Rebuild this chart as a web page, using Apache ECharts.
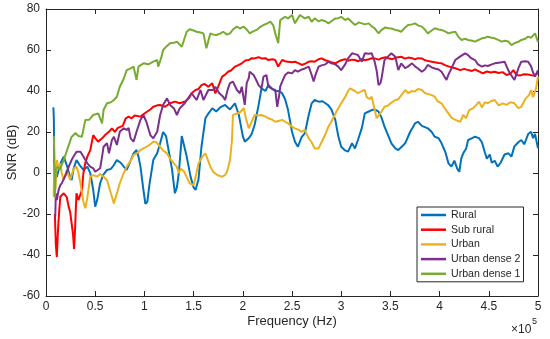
<!DOCTYPE html>
<html>
<head>
<meta charset="utf-8">
<script src="https://cdn.jsdelivr.net/npm/echarts@6/dist/echarts.min.js"></script>
<style>html,body{margin:0;padding:0;background:#fff}#c{width:550px;height:339px}</style>
</head>
<body>
<div id="c"></div>
<script>
// Frequencies are in units of 10^5 Hz; values are SNR in dB.
const seriesNames = ['Rural', 'Sub rural', 'Urban', 'Urban dense 2', 'Urban dense 1'];
const xTickLabels = ['0', '0.5', '1', '1.5', '2', '2.5', '3', '3.5', '4', '4.5', '5'];
const yTickLabels = ['-60', '-40', '-20', '0', '20', '40', '60', '80'];

const ruralF = [0.075,0.08,0.085,0.095,0.11,0.128,0.15,0.18,0.21,0.245,0.26,0.28,0.31,0.34,0.38,0.42,0.45,0.48,0.50,0.52,0.55,0.58,0.62,0.66,0.69,0.72,0.76,0.79,0.82,0.86,0.89,0.92,0.94,0.96,0.99,1.01,1.03,1.05,1.09,1.13,1.16,1.19,1.22,1.25,1.28,1.31,1.33,1.35,1.38,1.40,1.43,1.47,1.50,1.52,1.55,1.58,1.62,1.65,1.69,1.73,1.77,1.82,1.87,1.92,1.96,2.00,2.02,2.06,2.09,2.12,2.16,2.19,2.23,2.26,2.30,2.33,2.37,2.40,2.43,2.46,2.50,2.53,2.56,2.60,2.63,2.67,2.70,2.73,2.77,2.81,2.84,2.87,2.90,2.94,2.97,3.00,3.04,3.07,3.11,3.14,3.17,3.21,3.24,3.28,3.31,3.34,3.38,3.41,3.44,3.48,3.51,3.55,3.58,3.62,3.65,3.70,3.75,3.78,3.82,3.88,3.92,3.95,3.99,4.02,4.06,4.09,4.12,4.15,4.18,4.20,4.22,4.24,4.27,4.29,4.33,4.36,4.40,4.43,4.46,4.48,4.51,4.53,4.56,4.59,4.62,4.66,4.70,4.73,4.76,4.80,4.83,4.86,4.90,4.93,4.95,4.97,5.00];
const ruralV = [32,26,-4,3,-2,1.5,5,8,4,-1.8,-3.4,2,6.3,4,1.5,3.1,-0.1,-8.3,-16.4,-13.2,-5,-1,1.5,2,3.9,6.3,5,3.1,1.5,6,9.6,11.2,8,3.1,-8.3,-15,-14,-6,6.3,9.6,14.5,20,18,10,2,-9.9,-7,0,18,14,8,-2,-7,-8.3,-3,12.8,26.7,29,31.6,30,32,33.2,31,34,28.3,18,15.3,16.9,19,23.4,33,41.3,40,42.9,41,40,40,38.9,36,30.7,20.1,15.3,12.8,17.7,19.3,28.3,34,35.6,34.8,35,34,33,31,25.9,18,12.8,11,10.4,14.5,12,16.1,22,29.1,30,30.7,31,29.9,27,22.6,18,14.5,12,11.2,13,14.5,20,24.2,25,23,21.8,20,17.7,17,14.5,10,4.7,3.1,6,2,0.6,7,9.6,12,16.1,17,17.7,17,15,10,7,9,5,6,3.1,5,9,9.6,8,13,15,16.1,14,19,20.1,17,19,12];

const subRuralF = [0.09,0.10,0.11,0.12,0.128,0.145,0.18,0.21,0.23,0.245,0.26,0.275,0.285,0.295,0.30,0.31,0.33,0.35,0.365,0.38,0.40,0.42,0.45,0.47,0.48,0.50,0.53,0.57,0.60,0.64,0.67,0.70,0.73,0.75,0.78,0.81,0.84,0.87,0.90,0.92,0.96,1.00,1.02,1.06,1.09,1.13,1.16,1.21,1.26,1.31,1.36,1.38,1.42,1.45,1.48,1.52,1.55,1.58,1.61,1.65,1.69,1.72,1.75,1.79,1.82,1.85,1.88,1.92,1.95,1.99,2.03,2.06,2.09,2.12,2.16,2.19,2.23,2.26,2.30,2.33,2.36,2.40,2.43,2.46,2.50,2.53,2.57,2.60,2.64,2.67,2.70,2.73,2.77,2.80,2.84,2.87,2.90,2.94,2.97,3.00,3.04,3.07,3.11,3.14,3.17,3.21,3.24,3.28,3.31,3.34,3.38,3.41,3.45,3.48,3.52,3.55,3.58,3.61,3.65,3.68,3.72,3.75,3.78,3.82,3.85,3.88,3.92,3.95,3.99,4.02,4.06,4.09,4.13,4.16,4.21,4.25,4.29,4.33,4.36,4.40,4.44,4.48,4.52,4.56,4.60,4.64,4.68,4.72,4.75,4.78,4.82,4.86,4.90,4.92,4.95,4.97,5.00];
const subRuralV = [-20,-35,-41,-30,-22.9,-11.6,-9.9,-11.6,-16.4,-18.9,-19.7,-30,-37,-28,-21.3,-9.9,-13.2,-14,-8.3,-0.1,5,8,11.2,11.2,18.5,17,15.3,16.9,18.5,20.1,21.8,20.1,22,21.8,23,26.7,27.5,26.7,28,28.3,27.5,29,29.9,31,32.3,33,33.2,32.3,34,34.8,34,34,35,36.4,38.9,40.5,41,42.9,43.5,42.1,43.8,38.9,42.1,47,48,49.4,50,51.9,52.5,53.5,55,55.1,56,55.9,56.5,55.9,56,55.1,55.5,55.1,51.9,55.1,54.5,54.3,54,54.3,53.5,52.7,53.5,54.3,54.5,54.3,55.5,55.9,55,54.5,54,53.5,54.3,55,55.5,54.8,55.3,55.1,54.5,55.5,55,55.5,56,55.9,55.3,56,56.5,56,55.5,56.2,56.5,56.7,55.8,56.3,56,55.4,56,55.9,55,54.7,54.3,54,53.7,53.5,52.5,52,51.5,51.1,50.2,50.8,50.2,49.8,50.5,49.6,48.6,49.5,49,49.4,48.8,49.2,47.8,48.5,50.2,47.8,47.6,48.2,48,48.6,47.5,46.9,48.6];

const urbanF = [0.077,0.085,0.095,0.11,0.13,0.145,0.16,0.18,0.21,0.245,0.28,0.31,0.33,0.35,0.38,0.40,0.42,0.45,0.48,0.52,0.55,0.585,0.62,0.66,0.69,0.72,0.75,0.79,0.82,0.86,0.89,0.92,0.96,0.99,1.02,1.06,1.09,1.12,1.16,1.19,1.23,1.26,1.30,1.33,1.35,1.37,1.40,1.43,1.46,1.50,1.52,1.55,1.59,1.62,1.64,1.67,1.70,1.74,1.79,1.82,1.84,1.86,1.87,1.89,1.90,1.94,1.97,1.99,2.01,2.03,2.06,2.09,2.12,2.16,2.19,2.23,2.26,2.30,2.33,2.37,2.40,2.43,2.46,2.50,2.53,2.57,2.60,2.63,2.67,2.70,2.73,2.77,2.80,2.84,2.87,2.91,2.95,3.00,3.04,3.07,3.09,3.11,3.14,3.17,3.21,3.24,3.26,3.29,3.31,3.34,3.36,3.38,3.41,3.44,3.48,3.50,3.55,3.58,3.62,3.65,3.68,3.72,3.75,3.78,3.82,3.85,3.88,3.92,3.95,3.98,4.02,4.06,4.09,4.12,4.15,4.18,4.21,4.24,4.27,4.30,4.34,4.37,4.40,4.43,4.46,4.49,4.52,4.56,4.60,4.64,4.68,4.72,4.76,4.80,4.83,4.87,4.91,4.93,4.95,4.98,5.00];
const urbanV = [-11.6,5,-8,6.3,2,4.7,0,-3.4,1.5,-3.4,2,3.1,0,-5,-14,-17.2,-12,-1.8,-1,-1.8,-0.5,-1.8,-3.4,-10,-14.8,-10,-5,0,3.1,6,8.8,9.5,11.2,12,12.8,14,15.3,15,12.8,11,9.6,7,4.7,3,-0.1,2,1,-2,-5,-5.9,-2,4.7,8,9.6,7,3.1,0.5,-1,-1.8,-1,0.6,1,6.3,16.1,28.3,29,29.5,29.9,31.6,27,21.8,25,28.3,28,28.3,27.5,26.7,26,25,25.5,25.9,25,24.2,22.6,21.8,21,20.1,21,16.9,15,12,12,15,19,22.6,26,29.9,34,37,40,41.3,42.1,40,38.9,40,40.5,37,36,37.2,31,26.7,27.5,30,32.3,33,34,35.6,36,38.5,40.5,39,40,39.7,41,40.5,39,38.5,38,37.2,35,34,31,29.1,27,26.2,25.5,25,28.3,26.7,30.7,31.6,33,34.8,32,34.5,34,35,35.6,33,34,33.2,34.5,34,31.6,32.3,36,38.1,40.5,37,41.3,47];

const dense2F = [0.094,0.10,0.11,0.128,0.145,0.16,0.18,0.20,0.23,0.26,0.28,0.31,0.33,0.35,0.38,0.40,0.42,0.45,0.48,0.50,0.55,0.57,0.585,0.62,0.64,0.67,0.69,0.72,0.75,0.79,0.82,0.84,0.86,0.89,0.92,0.96,0.99,1.02,1.06,1.09,1.13,1.16,1.19,1.23,1.26,1.30,1.33,1.36,1.41,1.43,1.48,1.50,1.53,1.55,1.57,1.60,1.65,1.70,1.72,1.76,1.80,1.82,1.85,1.87,1.90,1.92,1.94,1.97,1.99,2.01,2.02,2.04,2.06,2.07,2.09,2.11,2.14,2.16,2.18,2.19,2.21,2.23,2.24,2.26,2.28,2.30,2.33,2.35,2.37,2.38,2.40,2.43,2.46,2.50,2.53,2.56,2.60,2.63,2.67,2.70,2.72,2.74,2.77,2.80,2.84,2.87,2.90,2.94,2.97,3.00,3.04,3.07,3.11,3.14,3.17,3.21,3.24,3.28,3.31,3.34,3.36,3.38,3.40,3.41,3.44,3.48,3.51,3.55,3.58,3.61,3.65,3.68,3.72,3.75,3.78,3.82,3.85,3.88,3.92,3.95,3.99,4.02,4.05,4.07,4.09,4.12,4.16,4.20,4.23,4.26,4.29,4.32,4.36,4.39,4.43,4.46,4.49,4.53,4.56,4.60,4.63,4.66,4.69,4.71,4.73,4.76,4.78,4.80,4.83,4.87,4.90,4.93,4.95,4.97,5.00];
const dense2V = [-21.3,-10,-13.2,-8.3,-6,-5,-3,-1,3,6.3,8,10.4,11.2,10.4,8,6.3,4.7,3.1,2.3,0.6,2.3,8,12.8,14.5,9.6,16.1,17.7,13.7,20.1,21.8,21,22,16.9,15.3,20.1,25.9,28.3,25,18.5,16.9,20.1,28.3,33.2,36.4,33.2,31.6,28.3,31.6,34,35.6,38.9,38,35.6,36.4,40.5,35.6,40.5,40.5,42.1,39,37.2,35.6,41.3,43.8,44.6,45.4,40.5,38.9,42.1,36,33.2,44,46.2,49.4,48.6,47.8,45,42.9,42.1,41.3,47,47.8,47.8,42.1,41.3,41,40.5,32.3,38,42.1,44.6,47.8,49,48.6,50.2,49.4,50.5,51,51.9,47.8,44.6,48,51.9,52.5,53,54.3,53.5,53,51.9,50.2,53,55.9,58.4,58,57.6,54.3,58.4,58.2,58.4,54.3,50,42.9,44,46.2,55.1,57,58.4,56.7,50.2,53.5,51.1,52,53.5,52,51,49.4,50.5,52.7,51.5,51,50.5,49.4,47,45.4,48,51,55.1,56.5,57.5,58.4,57.5,56,55.1,53,51.9,52.5,52.2,53,53.5,53.8,54,54.3,51,49,48.6,45.4,48,51,54.3,54.5,54.3,52,49,47,50.2];

const dense1F = [0.08,0.085,0.09,0.095,0.10,0.12,0.14,0.16,0.18,0.22,0.26,0.28,0.30,0.33,0.365,0.40,0.44,0.48,0.53,0.57,0.585,0.62,0.66,0.69,0.72,0.75,0.79,0.82,0.86,0.89,0.92,0.94,0.99,1.04,1.09,1.13,1.14,1.17,1.19,1.23,1.26,1.30,1.33,1.38,1.41,1.43,1.46,1.50,1.53,1.57,1.60,1.63,1.67,1.70,1.73,1.77,1.80,1.84,1.87,1.90,1.94,1.97,2.01,2.04,2.07,2.10,2.14,2.17,2.21,2.25,2.28,2.31,2.33,2.36,2.38,2.43,2.46,2.50,2.53,2.58,2.63,2.67,2.70,2.73,2.77,2.80,2.84,2.87,2.90,2.94,2.97,3.00,3.04,3.07,3.11,3.14,3.18,3.21,3.24,3.28,3.31,3.34,3.38,3.41,3.45,3.48,3.51,3.55,3.58,3.61,3.65,3.68,3.72,3.75,3.78,3.82,3.85,3.88,3.92,3.95,3.99,4.02,4.06,4.09,4.12,4.16,4.19,4.22,4.26,4.29,4.33,4.36,4.40,4.43,4.46,4.49,4.53,4.56,4.60,4.63,4.66,4.70,4.73,4.76,4.80,4.83,4.87,4.90,4.93,4.97,4.99,5.00];
const dense1V = [18,5,-12,-5,2,3,1.5,4,6.3,12,17.6,18.5,19.5,18,17.7,25.9,26,28.3,29.1,24.2,30.7,34,34.5,35.6,37.2,42.1,46,50.2,51,51.9,45.4,51.9,53.5,53,54.3,55.1,51.9,56,60,62,63.3,63.5,64.1,61.6,66,68.9,70.1,69.5,68.9,68.5,68.1,60.8,68.1,67.5,67.3,68,68.9,67.5,68.1,70,71.4,70.5,71.4,70,68.1,69,69.8,71,72.2,73,73.8,72,68.1,63.3,74.6,76.2,75.4,77.1,73,77.1,75.4,76.2,73.8,75.4,74,74.6,74,73,74,75.4,75.5,76.2,74.6,75.4,73.5,72.2,73.5,73,72.5,73,71.5,70.6,68.1,69.8,71,70.6,70.5,69.8,69.5,68.9,71,72.2,72.5,73,72,71.4,70,68.1,69.5,70.6,70,69.8,69,68.1,68.5,68.9,66.5,64.9,65.5,64.9,64.5,64.1,65,65.7,66,66.5,66,65.7,64.8,64.1,64.5,64.1,62.4,63.3,64,64.9,65.5,66.5,66,68.1,68.9,64];

const colors = ['#0072BD', '#FF0000', '#EDB120', '#7E2F8E', '#77AC30'];
const freqs = [ruralF, subRuralF, urbanF, dense2F, dense1F];
const vals = [ruralV, subRuralV, urbanV, dense2V, dense1V];

const axisColor = '#262626';
const fontFam = 'Arial, "Liberation Sans", Helvetica, sans-serif';

const series = seriesNames.map((name, i) => ({
  name: name,
  type: 'line',
  xAxisIndex: 0,
  yAxisIndex: 0,
  symbol: 'none',
  showSymbol: false,
  animation: false,
  color: colors[i],
  lineStyle: { width: 2, color: colors[i] },
  data: freqs[i].map((f, k) => [f, vals[i][k]])
}));

const chart = echarts.init(document.getElementById('c'), null, { renderer: 'canvas' });
chart.setOption({
  animation: false,
  backgroundColor: '#fff',
  grid: { left: 46, right: 12, top: 9, bottom: 43, containLabel: false, outerBoundsMode: 'none' },
  xAxis: [{
    type: 'value', min: 0, max: 5, interval: 0.5, position: 'bottom',
    name: 'Frequency (Hz)', nameLocation: 'middle', nameGap: 19, nameMoveOverlap: false,
    nameTextStyle: { fontSize: 13, color: axisColor, fontFamily: fontFam },
    axisLine: { show: true, onZero: false, lineStyle: { color: axisColor, width: 1 } },
    axisTick: { show: true, inside: true, length: 5, lineStyle: { color: axisColor } },
    axisLabel: { fontSize: 12, color: axisColor, fontFamily: fontFam, margin: 5,
      formatter: v => xTickLabels[Math.round(v / 0.5)] },
    splitLine: { show: false }
  }, {
    type: 'value', min: 0, max: 5, interval: 0.5, position: 'top',
    axisLine: { show: true, onZero: false, lineStyle: { color: axisColor, width: 1 } },
    axisTick: { show: true, inside: true, length: 5, lineStyle: { color: axisColor } },
    axisLabel: { show: false }, splitLine: { show: false }
  }],
  yAxis: [{
    type: 'value', min: -60, max: 80, interval: 20, position: 'left',
    name: 'SNR (dB)', nameLocation: 'middle', nameGap: 27, nameMoveOverlap: false,
    nameTextStyle: { fontSize: 13, color: axisColor, fontFamily: fontFam },
    axisLine: { show: true, onZero: false, lineStyle: { color: axisColor, width: 1 } },
    axisTick: { show: true, inside: true, length: 5, lineStyle: { color: axisColor } },
    axisLabel: { fontSize: 12, color: axisColor, fontFamily: fontFam, margin: 6,
      formatter: v => yTickLabels[Math.round((v + 60) / 20)] },
    splitLine: { show: false }
  }, {
    type: 'value', min: -60, max: 80, interval: 20, position: 'right',
    axisLine: { show: true, onZero: false, lineStyle: { color: axisColor, width: 1 } },
    axisTick: { show: true, inside: true, length: 5, lineStyle: { color: axisColor } },
    axisLabel: { show: false }, splitLine: { show: false }
  }],
  legend: {
    orient: 'vertical',
    left: 417, top: 207,
    data: seriesNames,
    icon: 'rect',
    itemWidth: 25, itemHeight: 2.5,
    itemGap: 2.7,
    itemTextGap: 3,
    padding: [2, 3, 2, 4],
    borderColor: axisColor, borderWidth: 1,
    backgroundColor: '#fff',
    textStyle: { fontSize: 10.6, color: axisColor, fontFamily: fontFam, lineHeight: 12 }
  },
  graphic: [
    { type: 'text', left: 511, top: 324, style: { text: '\u00d710', fontSize: 12, fill: axisColor, fontFamily: fontFam } },
    { type: 'text', left: 532, top: 317, style: { text: '5', fontSize: 9, fill: axisColor, fontFamily: fontFam } }
  ],
  series: series
});
</script>
</body>
</html>
